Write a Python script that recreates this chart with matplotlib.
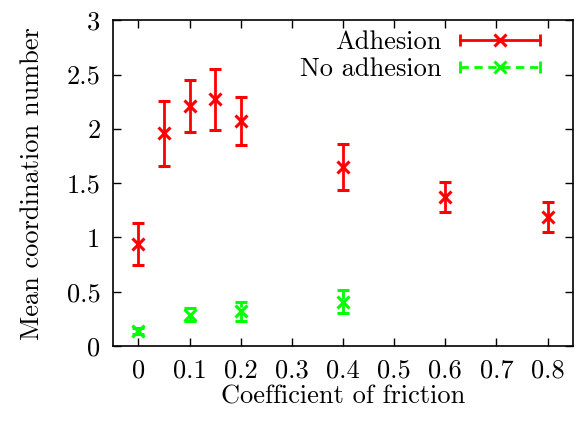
import matplotlib
matplotlib.use('Agg')
import matplotlib.pyplot as plt
from matplotlib.lines import Line2D
from matplotlib.legend_handler import HandlerLine2D, HandlerTuple
from matplotlib.ticker import FormatStrFormatter

plt.rcParams['font.family'] = 'cmr10'
plt.rcParams['axes.formatter.use_mathtext'] = True
plt.rcParams['font.size'] = 19

# Adhesion series
adh_mu = [0.0, 0.05, 0.1, 0.15, 0.2, 0.4, 0.6, 0.8]
adh_z = [0.94, 1.96, 2.21, 2.27, 2.07, 1.65, 1.37, 1.19]
adh_err = [0.19, 0.30, 0.24, 0.28, 0.22, 0.21, 0.14, 0.14]

# No adhesion series
noadh_mu = [0.0, 0.1, 0.2, 0.4]
noadh_z = [0.14, 0.29, 0.32, 0.41]
noadh_err = [0.03, 0.06, 0.09, 0.11]

red = '#ff0000'
green = '#00ff00'
dash = (0, (3, 2))

fig = plt.figure(figsize=(5.76, 4.21), dpi=100)
ax = fig.add_axes([0.196, 0.178, 0.799, 0.774])

ax.errorbar(adh_mu, adh_z, yerr=adh_err, fmt='x', color=red,
            ms=8, mew=2.2, elinewidth=2, capsize=4, capthick=2)
eb = ax.errorbar(noadh_mu, noadh_z, yerr=noadh_err, fmt='x', color=green,
                 ms=8, mew=2.2, elinewidth=2, capsize=4, capthick=2)
eb[2][0].set_linestyle(dash)

ax.set_xlim(-0.05, 0.85)
ax.set_ylim(0, 3)
ax.set_xticks([0, 0.1, 0.2, 0.3, 0.4, 0.5, 0.6, 0.7, 0.8])
ax.set_yticks([0, 0.5, 1, 1.5, 2, 2.5, 3])
ax.xaxis.set_major_formatter(FormatStrFormatter('%g'))
ax.yaxis.set_major_formatter(FormatStrFormatter('%g'))
ax.tick_params(direction='in', length=6, width=1, top=True, right=True,
               labelsize=19, pad=9)
for s in ax.spines.values():
    s.set_linewidth(1.2)

ax.set_xlabel('Coefficient of friction', fontsize=19, labelpad=2)
ax.set_ylabel('Mean coordination number', fontsize=19, labelpad=16)

# legend handles: line with marker in the middle, caps at the ends
caps_map = {}
handles = []
for c, ls in [(red, '-'), (green, dash)]:
    body = Line2D([], [], color=c, ls=ls, lw=2, marker='x', ms=8, mew=2.2)
    caps = Line2D([], [], color=c, ls='none', marker='|', ms=8, mew=2)
    caps_map[caps] = HandlerLine2D(numpoints=2, marker_pad=0)
    handles.append((body, caps))
caps_map[tuple] = HandlerTuple(ndivide=1, pad=0)

ax.legend(handles, ['Adhesion', 'No adhesion'], handler_map=caps_map,
          loc='upper right', bbox_to_anchor=(0.95, 1.0), frameon=False,
          handlelength=3.0, fontsize=19, borderaxespad=0,
          labelspacing=0.1, handletextpad=0.7, markerfirst=False)

fig.savefig('out.png', dpi=100)
